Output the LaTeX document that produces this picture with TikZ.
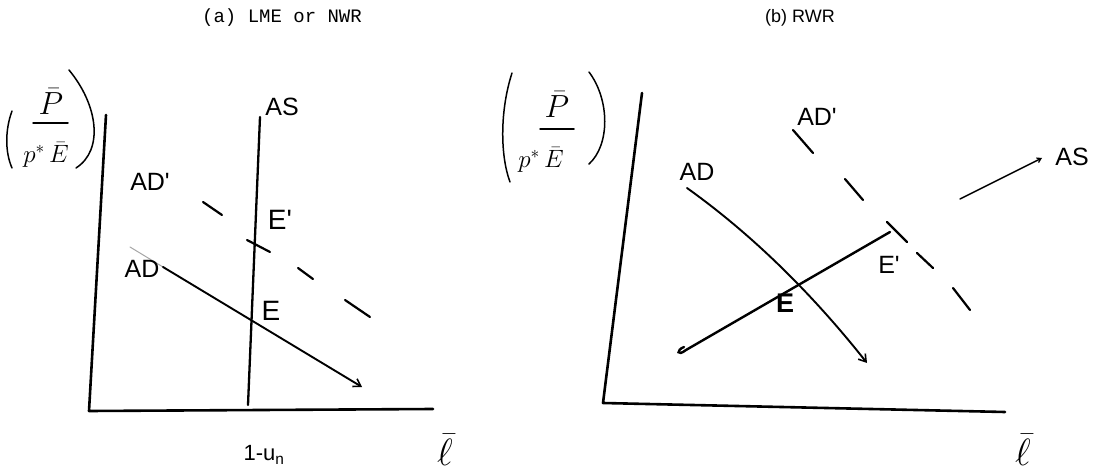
\RequirePackage{fix-cm}
\documentclass[tikz,border=0pt]{standalone}
\usepackage{fontspec}
\setmainfont{Liberation Sans}
\newfontfamily\twfont{Liberation Mono}
\usetikzlibrary{arrows.meta}
\begin{document}
\begin{tikzpicture}[x=1pt,y=-1pt,
  axisline/.style={line width=2.6pt, line cap=round, line join=round},
  curveline/.style={line width=1.9pt, line cap=round},
  dashseg/.style={line width=2.2pt, line cap=round},
  parenline/.style={line width=1.5pt, line cap=round},
  hand/.style={font=\fontsize{25}{25}\selectfont, inner sep=0pt},
  handE/.style={font=\fontsize{28}{28}\selectfont, inner sep=0pt},
  ttl/.style={inner sep=0pt},
  tip/.style={-{Straight Barb[length=7pt,width=9pt,line width=1.6pt]}}
]
\useasboundingbox (0,0) rectangle (1104,476);

% ---------- titles
\node[ttl, font=\twfont\fontsize{19}{19}\selectfont] (ta) at (282,18) {(a) LME or NWR};
\node[ttl, font=\fontsize{18}{18}\selectfont] (tb) at (800,18) {(b) RWR};

% ---------- panel (a)
\coordinate (aY) at (106,115);
\coordinate (aO) at (89,411);
\coordinate (aX) at (433,409);
\draw[axisline] (aY) -- (aO) -- (aX);

% y label (a)
\node[inner sep=0pt, font=\fontsize{32}{32}\selectfont] (anum) at (51,102) {$\bar{P}$};
\node[inner sep=0pt, font=\fontsize{25}{25}\selectfont] (aden) at (46,155) {$p^{*}\,\bar{E}$};
\coordinate (afb1) at (33,123);
\coordinate (afb2) at (68,123);
\draw[parenline] (afb1) -- (afb2);
\coordinate (aop1) at (12,111);
\coordinate (aop2) at (12,168);
\draw[parenline] (aop1) .. controls (5,130) and (5,152) .. (aop2);
\coordinate (acp1) at (69,70);
\coordinate (acp2) at (76,168);
\draw[parenline] (acp1) .. controls (98,105) and (104,150) .. (acp2);

% AS vertical (a)
\coordinate (aAS1) at (260,117);
\coordinate (aAS2) at (248,405);
\draw[axisline, line width=2.3pt] (aAS1) -- (aAS2);
\node[hand] (aASl) at (282,107) {AS};

% AD (a)
\coordinate (aAD0) at (130,247);
\coordinate (aAD1) at (163,267);
\coordinate (aAD2) at (362,387);
\draw[line width=1pt, black!35, line cap=round] (aAD0) -- (aAD1);
\draw[curveline, tip] (aAD1) -- (aAD2);
\node[hand] (aADl) at (142,269) {AD};

% AD' dashes (a)
\draw[dashseg] (203,202) -- (222,215);
\draw[dashseg] (247,240) -- (270,252);
\draw[dashseg] (298,268) -- (313,279);
\draw[dashseg] (345,300) -- (370,317);
\node[hand] (aADpl) at (150,182) {AD\textquotesingle};

\node[handE] (aEp) at (280,220) {E\textquotesingle};
\node[handE] (aE) at (271,311) {E};

\node[inner sep=0pt, font=\fontsize{22}{22}\selectfont] (aun) at (264,455) {1-u\textsubscript{n}};
\node[inner sep=0pt, font=\fontsize{38}{38}\selectfont] (axl) at (445,450) {$\bar{\ell}$};

% ---------- panel (b)
\coordinate (bY) at (642,93);
\coordinate (bO) at (603,403);
\coordinate (bX) at (1005,412);
\draw[axisline] (bY) -- (bO) -- (bX);

% y label (b)
\node[inner sep=0pt, font=\fontsize{32}{32}\selectfont] (bnum) at (557,105) {$\bar{P}$};
\node[inner sep=0pt, font=\fontsize{25}{25}\selectfont] (bden) at (541,160) {$p^{*}\,\bar{E}$};
\coordinate (bfb1) at (540,129);
\coordinate (bfb2) at (574,129);
\draw[parenline] (bfb1) -- (bfb2);
\coordinate (bop1) at (512,73);
\coordinate (bop2) at (510,182);
\draw[parenline] (bop1) .. controls (500,110) and (500,155) .. (bop2);
\coordinate (bcp1) at (589,72);
\coordinate (bcp2) at (589,164);
\draw[parenline] (bcp1) .. controls (610,100) and (610,145) .. (bcp2);

% AD (b)
\coordinate (bAD1) at (687,188);
\coordinate (bAD2) at (867,363);
\draw[curveline, tip] (bAD1) .. controls (750,233) and (810,291) .. (bAD2);
\node[hand] (bADl) at (697,172) {AD};

% AS (b)
\coordinate (bAS0) at (684,347);
\coordinate (bAS1) at (890,232);
\coordinate (bAS2) at (960,199);
\coordinate (bAS3) at (1042,158);
\draw[curveline, line width=2.4pt] (bAS0) .. controls (676,350) and (677,357) .. (686,350) -- (bAS1);
\draw[curveline, line width=1.5pt, -{Straight Barb[length=4pt,width=5pt,line width=1.2pt]}] (bAS2) -- (bAS3);
\node[hand] (bASl) at (1072,157) {AS};

% AD' dashes (b)
\draw[dashseg] (793,130) -- (813,153);
\draw[dashseg] (845,179) -- (863,200);
\draw[dashseg] (887,222) -- (907,242);
\draw[dashseg] (917,253) -- (933,268);
\draw[dashseg] (953,288) -- (970,310);
\node[hand] (bADpl) at (817,117) {AD\textquotesingle};

\node[handE, font=\bfseries\fontsize{27}{27}\selectfont] (bE) at (785,303) {E};
\node[hand] (bEp) at (889,265) {E\textquotesingle};

\node[inner sep=0pt, font=\fontsize{38}{38}\selectfont] (bxl) at (1023,450) {$\bar{\ell}$};
\end{tikzpicture}
\end{document}
